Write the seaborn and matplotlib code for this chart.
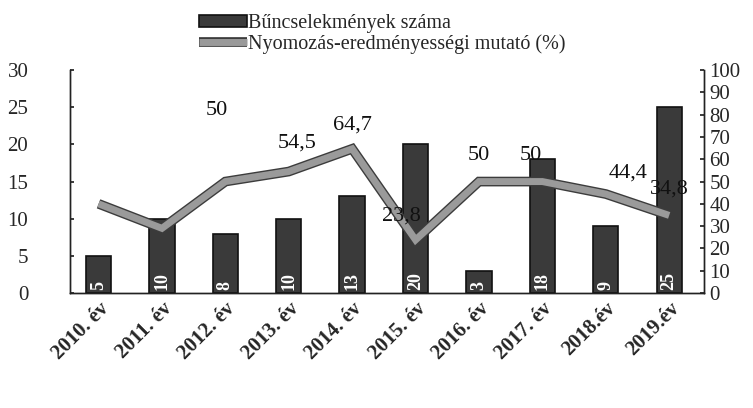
import matplotlib
matplotlib.use("Agg")
import matplotlib.pyplot as plt
import matplotlib.patheffects as pe
import seaborn as sns
import pandas as pd

# Data
years = ["2010. év", "2011. év", "2012. év", "2013. év", "2014. év",
         "2015. év", "2016. év", "2017. év", "2018.év", "2019.év"]
crimes = [5, 10, 8, 10, 13, 20, 3, 18, 9, 25]
rate = [40, 29, 50, 54.5, 64.7, 23.8, 50, 50, 44.4, 34.8]
rate_labels = ["", "", "50", "54,5", "64,7", "23,8", "50", "50", "44,4", "34,8"]

df = pd.DataFrame({"year": years, "crimes": crimes, "rate": rate})

sns.set_theme(style="white")
plt.rcParams["font.family"] = ["Liberation Serif", "DejaVu Serif"]

fig = plt.figure(figsize=(7.53, 4.08), dpi=100)
ax = fig.add_axes([0.093, 0.282, 0.842, 0.546])

sns.barplot(data=df, x="year", y="crimes", ax=ax, width=0.4,
            color="#3a3a3a", edgecolor="#111111", linewidth=1.2,
            saturation=1)

# white numbers inside the bars
for i, v in enumerate(crimes):
    ax.text(i, 0.4, str(v), rotation=90, ha="center", va="bottom",
            color="white", fontsize=13, fontweight="bold")

ax.set_ylim(0, 30)
ax.set_yticks(range(0, 31, 5))
ax.set_xlabel("")
ax.set_ylabel("")
ax.tick_params(axis="y", direction="in", length=3, labelsize=15, pad=30, color="#222222")
ax.tick_params(axis="x", length=0, labelsize=15, pad=4)
ax.set_xticks(range(len(years)))
ax.set_xticklabels(years, rotation=45, ha="right", rotation_mode="anchor", fontweight="bold")
ax.set_xlim(-0.45, len(years) - 0.45)

ax2 = ax.twinx()
line, = ax2.plot(range(len(years)), df["rate"], color="#9a9a9a", linewidth=5,
                 solid_joinstyle="miter", solid_capstyle="butt",
                 path_effects=[pe.Stroke(linewidth=7, foreground="#3c3c3c"), pe.Normal()])
ax2.set_ylim(0, 100)
ax2.set_yticks(range(0, 101, 10))
ax2.tick_params(axis="y", direction="in", length=3, labelsize=15, pad=4, color="#222222")
ax2.set_ylabel("")

offsets = [(0, 0), (0, 0), (-6, 44), (6, 14), (0, 10), (-10, 10),
           (0, 12), (-8, 12), (16, 8), (0, 12)]
for i, (v, lab) in enumerate(zip(rate, rate_labels)):
    if lab:
        ax2.annotate(lab, (i, v), xytext=offsets[i], textcoords="offset points",
                     ha="center", va="bottom", fontsize=16, color="#111111")

for a in (ax, ax2):
    a.spines["top"].set_visible(False)
    for s in ("left", "right", "bottom"):
        a.spines[s].set_color("#222222")
        a.spines[s].set_linewidth(1.0)
    a.grid(False)

handles = [ax.patches[0], line]
fig.legend(handles, ["Bűncselekmények száma", "Nyomozás-eredményességi mutató (%)"],
           loc="upper left", bbox_to_anchor=(0.245, 1.0), frameon=False,
           fontsize=14.5, handlelength=2.4, handleheight=0.6, handletextpad=0.05,
           labelspacing=0.05, borderaxespad=0.3)

fig.savefig("out.png", dpi=100, facecolor="white")
